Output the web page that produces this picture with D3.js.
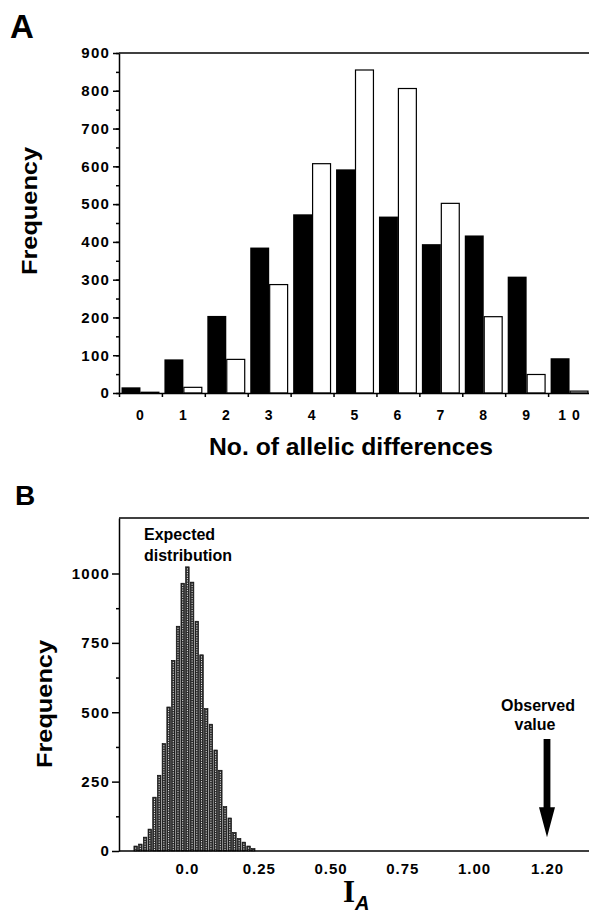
<!DOCTYPE html>
<html>
<head>
<meta charset="utf-8">
<script src="https://cdn.jsdelivr.net/npm/d3@7"></script>
<style>
body { margin: 0; background: #fff; }
text { font-family: "Liberation Sans", Arial, sans-serif; font-weight: bold; fill: #000; }
.axis path, .axis line { stroke: #000; stroke-width: 1.5; }
</style>
</head>
<body>
<script>
// Panel A: allelic differences
var diffCategories = ["0", "1", "2", "3", "4", "5", "6", "7", "8", "9", "10"];
var diffLabels = ["0", "1", "2", "3", "4", "5", "6", "7", "8", "9", "1 0"];
var observedFreq = [15, 89, 204, 385, 473, 592, 467, 394, 417, 308, 92];
var expectedFreq = [2, 15, 89, 287, 607, 855, 806, 502, 202, 49, 5];
var yTicksA = [0, 100, 200, 300, 400, 500, 600, 700, 800, 900];

// Panel B: distribution of I_A
var iaFreq = [18, 25, 50, 79, 194, 273, 387, 519, 687, 810, 965, 1024, 969,
              828, 707, 513, 457, 364, 291, 160, 119, 67, 45, 32, 18, 9];
var iaBinLo = -0.185, iaBinHi = 0.237;
var iaTickValues = [0, 0.25, 0.5, 0.75, 1.0, 1.2];
var iaTickLabels = ["0.0", "0.25", "0.50", "0.75", "1.00", "1.20"];
var observedIA = 1.2;
var yTicksB = [0, 250, 500, 750, 1000];

var width = 589, height = 919;

var svg = d3.select("body").append("svg")
    .attr("width", width)
    .attr("height", height);

function labelStyle(size, spacing){
    return function(g){
        g.selectAll("text")
            .style("font-size", size + "px")
            .style("letter-spacing", spacing + "px")
            .style("font-family", "'Liberation Sans', Arial, sans-serif")
            .style("font-weight", "bold");
    };
}

// ---------- PANEL A ----------
var xA = d3.scaleBand()
    .domain(diffCategories)
    .range([119, 591])
    .paddingInner(0.117)
    .paddingOuter(0.0585);

var xSub = d3.scaleBand()
    .domain(["obs", "exp"])
    .range([0, xA.bandwidth()]);

var yA = d3.scaleLinear().domain([0, 900]).range([393, 53]);

// boundary ticks between categories
var xEdges = d3.scaleLinear().domain([0, diffCategories.length]).range([119, 591]);

svg.append("text").attr("x", 10).attr("y", 38)
    .style("font-size", "33px").text("A");

// top frame
svg.append("line")
    .attr("x1", 119).attr("x2", width)
    .attr("y1", yA(900)).attr("y2", yA(900))
    .attr("stroke", "#000").attr("stroke-width", 1.5);

var groupsA = svg.selectAll("g.cat")
    .data(diffCategories)
    .enter().append("g")
        .attr("class", "cat")
        .attr("transform", function(d){ return "translate(" + xA(d) + ",0)"; });

groupsA.append("rect")
    .attr("x", xSub("obs"))
    .attr("width", xSub.bandwidth())
    .attr("y", function(d, i){ return yA(observedFreq[i]); })
    .attr("height", function(d, i){ return yA(0) - yA(observedFreq[i]); })
    .attr("fill", "#000");

groupsA.append("rect")
    .attr("x", xSub("exp") + 0.5)
    .attr("width", xSub.bandwidth() - 1)
    .attr("y", function(d, i){ return yA(expectedFreq[i]); })
    .attr("height", function(d, i){ return yA(0) - yA(expectedFreq[i]); })
    .attr("fill", "#fff")
    .attr("stroke", "#000")
    .attr("stroke-width", 1.2);

// y axis A
svg.append("g")
    .attr("class", "axis")
    .attr("transform", "translate(119,0)")
    .call(d3.axisLeft(yA).tickValues(yTicksA).tickSize(6).tickSizeOuter(0).tickPadding(3))
    .call(labelStyle(15, 1.2));

svg.append("g")
    .attr("class", "axis")
    .attr("transform", "translate(119,0)")
    .call(d3.axisLeft(yA).ticks(18).tickSize(3).tickFormat(""))
    .call(function(g){ g.select(".domain").remove(); });

// x axis A
svg.append("g")
    .attr("class", "axis")
    .attr("transform", "translate(0," + yA(0) + ")")
    .call(d3.axisBottom(xA).tickSize(0).tickSizeOuter(0).tickPadding(17)
        .tickFormat(function(d, i){ return diffLabels[i]; }))
    .call(labelStyle(14, 1));

svg.append("g")
    .attr("class", "axis")
    .attr("transform", "translate(0," + yA(0) + ")")
    .call(d3.axisBottom(xEdges).ticks(diffCategories.length).tickSize(4).tickFormat(""))
    .call(function(g){ g.select(".domain").remove(); });

svg.append("text")
    .attr("x", 351).attr("y", 455)
    .attr("text-anchor", "middle")
    .attr("textLength", 284).attr("lengthAdjust", "spacingAndGlyphs")
    .style("font-size", "24px")
    .text("No. of allelic differences");

svg.append("text")
    .attr("transform", "translate(37,211) rotate(-90)")
    .attr("text-anchor", "middle")
    .attr("textLength", 128).attr("lengthAdjust", "spacingAndGlyphs")
    .style("font-size", "22px")
    .text("Frequency");

// ---------- PANEL B ----------
var yB = d3.scaleLinear().domain([0, 1200]).range([851, 518]);
var xB = d3.scaleLinear().domain([0, 1.0, 1.2]).range([187, 474, 547]);

var binX = d3.scaleBand()
    .domain(d3.range(iaFreq.length))
    .range([xB(iaBinLo), xB(iaBinHi)])
    .paddingInner(0.25)
    .paddingOuter(0);

svg.append("text").attr("x", 15).attr("y", 505)
    .style("font-size", "28px").text("B");

svg.append("line")
    .attr("x1", 119).attr("x2", width)
    .attr("y1", yB(1200)).attr("y2", yB(1200))
    .attr("stroke", "#000").attr("stroke-width", 1.5);

var bins = svg.selectAll("g.bin")
    .data(iaFreq)
    .enter().append("g")
        .attr("class", "bin");

bins.append("rect")
    .attr("x", function(d, i){ return binX(i); })
    .attr("width", binX.bandwidth())
    .attr("y", function(d){ return yB(d); })
    .attr("height", function(d){ return yB(0) - yB(d); })
    .attr("fill", "#2a2a2a")
    .attr("stroke", "#000")
    .attr("stroke-width", 0.6);

bins.append("line")
    .attr("x1", function(d, i){ return binX(i) + binX.bandwidth() / 2; })
    .attr("x2", function(d, i){ return binX(i) + binX.bandwidth() / 2; })
    .attr("y1", function(d){ return yB(d) + 1.5; })
    .attr("y2", yB(0))
    .attr("stroke", "#eee")
    .attr("stroke-width", 1)
    .attr("stroke-dasharray", "1.2,1.2");

// y axis B
svg.append("g")
    .attr("class", "axis")
    .attr("transform", "translate(119,0)")
    .call(d3.axisLeft(yB).tickValues(yTicksB).tickSize(7).tickSizeOuter(0).tickPadding(2)
        .tickFormat(d3.format("d")))
    .call(labelStyle(15, 1.2));

svg.append("g")
    .attr("class", "axis")
    .attr("transform", "translate(119,0)")
    .call(d3.axisLeft(yB).tickValues([125, 375, 625, 875]).tickSize(3).tickFormat(""))
    .call(function(g){ g.select(".domain").remove(); });

// x axis B
svg.append("line")
    .attr("x1", 119).attr("x2", width)
    .attr("y1", yB(0)).attr("y2", yB(0))
    .attr("stroke", "#000").attr("stroke-width", 1.5);

svg.append("g")
    .attr("class", "axis")
    .attr("transform", "translate(0," + yB(0) + ")")
    .call(d3.axisBottom(xB).tickValues(iaTickValues).tickSize(0).tickPadding(12)
        .tickFormat(function(d, i){ return iaTickLabels[i]; }))
    .call(function(g){ g.select(".domain").remove(); })
    .call(labelStyle(15, 1));

svg.append("text")
    .attr("transform", "translate(52,704) rotate(-90)")
    .attr("text-anchor", "middle")
    .attr("textLength", 128).attr("lengthAdjust", "spacingAndGlyphs")
    .style("font-size", "22px")
    .text("Frequency");

var iaLabel = svg.append("text")
    .attr("x", 343).attr("y", 902);
iaLabel.append("tspan")
    .style("font-family", "'Liberation Serif', 'Times New Roman', serif")
    .style("font-size", "31px")
    .text("I");
iaLabel.append("tspan")
    .attr("dy", 8)
    .style("font-style", "italic")
    .style("font-size", "20px")
    .text("A");

// annotations
var expLabel = svg.append("text")
    .attr("x", 144).attr("y", 540)
    .style("font-size", "16px");
expLabel.append("tspan").attr("x", 144).text("Expected");
expLabel.append("tspan").attr("x", 144).attr("dy", 21).text("distribution");

var ax = xB(observedIA);
var obsLabel = svg.append("text")
    .attr("x", ax - 9).attr("y", 711)
    .attr("text-anchor", "middle")
    .style("font-size", "16px");
obsLabel.append("tspan").attr("x", ax - 9).text("Observed");
obsLabel.append("tspan").attr("x", ax - 12).attr("dy", 19).text("value");

var tipY = yB(50);
svg.append("path")
    .attr("d", "M" + (ax - 3.4) + ",739 L" + (ax + 3.4) + ",739 L" + (ax + 3.4) + "," + (tipY - 30) +
               " L" + (ax + 8) + "," + (tipY - 30) + " L" + ax + "," + tipY +
               " L" + (ax - 8) + "," + (tipY - 30) + " L" + (ax - 3.4) + "," + (tipY - 30) + " Z")
    .attr("fill", "#000");
</script>
</body>
</html>
